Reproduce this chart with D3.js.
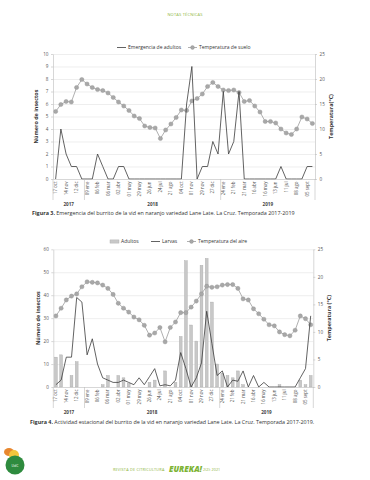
<!DOCTYPE html>
<html>
<head>
<meta charset="utf-8">
<style>
  body { margin: 0; background: #fff; }
  svg text { font-family: "Open Sans", sans-serif; }
</style>
</head>
<body>
<script src="https://cdnjs.cloudflare.com/ajax/libs/d3/7.8.5/d3.min.js"></script>
<script>

/* fechas de muestreo (solo se rotulan las pares) */
var fechas = ["17 oct", "31 oct", "14 nov", "28 nov", "12 dic", "26 dic",
  "09 ene", "23 ene", "06 feb", "20 feb", "06 mar", "20 mar", "02 abr", "17 abr",
  "01 may", "15 may", "29 may", "12 jun", "26 jun", "10 jul", "24 jul", "07 ago",
  "21 ago", "20 sept", "04 oct", "18 oct", "01 nov", "15 nov", "29 nov", "13 dic",
  "27 dic", "31 dic", "24 ene", "07 feb", "21 feb", "07 mar", "21 mar", "02 abr",
  "16 abr", "02 may", "16 may", "30 may", "13 jun", "27 jun", "11 jul", "25 jul",
  "08 ago", "22 ago", "05 sept", "19 sept"];
var anios = ["2017", "2018", "2019"];
var inicioAnio = [0, 6, 32];

/* Figura 3 */
var emergenciaAdultos = [0, 4, 2, 1, 1, 0, 0, 0, 2, 1, 0, 0, 1, 1, 0, 0, 0, 0, 0, 0,
  0, 0, 0, 0, 0, 6, 9, 0, 1, 1, 3, 2, 7, 2, 3, 7, 0, 0, 0, 0,
  0, 0, 0, 1, 0, 0, 0, 0, 1, 1];
var temperaturaSuelo = [13.5, 14.9, 15.5, 15.4, 18.3, 19.9, 19.0, 18.3, 17.9, 17.7,
  17.2, 16.3, 15.4, 14.6, 13.7, 12.6, 12.1, 10.6, 10.3, 10.2,
  8.1, 9.8, 11.0, 12.3, 13.8, 13.7, 15.6, 16.1, 17.0, 18.5,
  19.3, 18.5, 17.8, 17.7, 17.8, 17.3, 15.5, 15.7, 14.6, 13.4,
  11.5, 11.5, 11.2, 10.0, 9.2, 8.9, 10.0, 12.4, 12.0, 11.1];

/* Figura 4 */
var adultos = [13, 14, 0, 5, 11, 0, 0, 0, 0, 1, 5, 0, 5, 4, 1.5, 0, 0, 0, 2, 3,
  0, 7, 0, 2, 22, 55, 27, 20, 53, 56, 37, 10, 6, 5, 4, 7, 1, 0, 0, 0,
  0, 0, 0, 1, 0, 0, 0, 3, 1, 5];
var larvas = [1, 3, 13, 13, 39, 37, 14, 21, 10, 4, 3, 2, 2, 3, 2, 1, 4, 1, 4.5, 8,
  0.5, 1, 0.5, 3, 15, 8, 0, 4, 10.5, 33, 19, 5, 7, 0, 3, 2.5, 7, 0, 5, 0,
  2, 0, 0, 0, 0, 0, 0, 4, 8, 31];
var temperaturaAire = [12.9, 14.3, 15.8, 16.5, 16.9, 18.2, 19.1, 19.0, 18.9, 18.5,
  17.9, 16.8, 15.2, 14.3, 13.6, 12.7, 12.2, 11.2, 9.4, 9.8,
  10.8, 8.2, 10.8, 11.8, 13.5, 13.5, 14.5, 15.6, 16.9, 18.3,
  18.1, 18.2, 18.5, 18.6, 18.6, 17.9, 16.0, 15.8, 14.2, 13.3,
  12.3, 11.3, 11.1, 10.0, 9.5, 9.3, 10.3, 12.9, 12.4, 11.3];

var ticksTemp = [0, 5, 10, 15, 20, 25];

var colorLinea = "#3b3b3b";
var colorTemp = "#9c9c9c";
var colorEje = "#bcbcbc";
var verde = "#8db43a";

var svg = d3.select("body").append("svg")
  .attr("width", 370)
  .attr("height", 480);

function estiloEje(s) {
  s.select(".domain").attr("stroke", colorEje).attr("stroke-width", 0.6);
  s.selectAll(".tick line").attr("stroke", colorEje).attr("stroke-width", 0.6);
  s.selectAll("text").attr("font-size", "4.6px").attr("fill", "#555");
}

function dibujarGrafico(cfg) {
  var n = fechas.length;
  var ancho = cfg.right - cfg.left;
  var x = d3.scaleBand().domain(d3.range(n)).range([cfg.left, cfg.right]);
  var yIzq = d3.scaleLinear().domain([0, cfg.maxIzq]).range([cfg.bottom, cfg.top]);
  var yDer = d3.scaleLinear().domain([0, 25]).range([cfg.bottom, cfg.top]);
  var centro = function(i) { return x(i) + x.bandwidth() / 2; };

  var chart = svg.append("g").attr("class", "chart");

  /* grid */
  chart.append("g")
    .attr("transform", "translate(" + cfg.left + ",0)")
    .call(d3.axisLeft(yIzq).tickValues(cfg.ticksIzq.slice(1)).tickSize(-ancho).tickFormat(""))
    .call(function(s) {
      s.select(".domain").remove();
      s.selectAll("line").attr("stroke", "#e2e2e2").attr("stroke-width", 0.6);
    });

  /* bars */
  if (cfg.barras) {
    chart.append("g").selectAll("rect")
      .data(cfg.barras)
      .enter().append("rect")
      .attr("x", function(d, i) { return centro(i) - 1.4; })
      .attr("width", 2.8)
      .attr("y", function(d) { return yIzq(d); })
      .attr("height", function(d) { return cfg.bottom - yIzq(d); })
      .attr("fill", "#c8c8c8")
      .attr("stroke", "#a8a8a8")
      .attr("stroke-width", 0.4);
  }

  /* temperature */
  var lineaTemp = d3.line()
    .x(function(d, i) { return centro(i); })
    .y(function(d) { return yDer(d); });

  chart.append("path")
    .datum(cfg.temp)
    .attr("d", lineaTemp)
    .attr("fill", "none")
    .attr("stroke", colorTemp)
    .attr("stroke-width", 0.8);

  chart.append("g").selectAll("circle")
    .data(cfg.temp)
    .enter().append("circle")
    .attr("cx", function(d, i) { return centro(i); })
    .attr("cy", function(d) { return yDer(d); })
    .attr("r", 2.1)
    .attr("fill", "#a8a8a8")
    .attr("stroke", "#919191")
    .attr("stroke-width", 0.4);

  /* insects line */
  var lineaIns = d3.line()
    .x(function(d, i) { return centro(i); })
    .y(function(d) { return yIzq(d); });

  chart.append("path")
    .datum(cfg.linea)
    .attr("d", lineaIns)
    .attr("fill", "none")
    .attr("stroke", colorLinea)
    .attr("stroke-width", 0.8)
    .attr("stroke-linejoin", "round");

  /* axes */
  chart.append("g")
    .attr("transform", "translate(" + cfg.left + ",0)")
    .call(d3.axisLeft(yIzq).tickValues(cfg.ticksIzq).tickSize(2).tickSizeOuter(0).tickPadding(2.5))
    .call(estiloEje);

  chart.append("g")
    .attr("transform", "translate(" + cfg.right + ",0)")
    .call(d3.axisRight(yDer).tickValues(ticksTemp).tickSize(2).tickSizeOuter(0).tickPadding(2.5))
    .call(estiloEje);

  chart.append("g")
    .attr("transform", "translate(0," + cfg.bottom + ")")
    .call(d3.axisBottom(x)
      .tickValues(d3.range(0, n, 2))
      .tickFormat(function(i) { return fechas[i]; })
      .tickSize(0).tickSizeOuter(0))
    .call(estiloEje)
    .call(function(s) {
      s.selectAll("text")
        .attr("transform", "rotate(-90)")
        .attr("text-anchor", "end")
        .attr("x", -2.5)
        .attr("y", 0)
        .attr("dy", "0.35em")
        .attr("font-size", "4.4px");
    });

  /* year groups */
  var limites = inicioAnio.map(function(b) { return x(b); }).concat([cfg.right]);

  chart.append("g").selectAll("line")
    .data(limites)
    .enter().append("line")
    .attr("x1", function(d) { return d; })
    .attr("x2", function(d) { return d; })
    .attr("y1", cfg.bottom)
    .attr("y2", cfg.bottom + 21)
    .attr("stroke", colorEje)
    .attr("stroke-width", 0.6);

  chart.append("g").selectAll("text")
    .data(anios)
    .enter().append("text")
    .attr("x", function(d, i) { return (limites[i] + limites[i + 1]) / 2; })
    .attr("y", cfg.bottom + 26.5)
    .attr("text-anchor", "middle")
    .attr("font-size", "4.6px")
    .attr("font-weight", "bold")
    .attr("fill", "#444")
    .text(function(d) { return d; });

  /* axis titles */
  chart.append("text")
    .attr("transform", "translate(" + cfg.tituloIzqX + "," + (cfg.top + cfg.bottom) / 2 + ") rotate(-90)")
    .attr("text-anchor", "middle")
    .attr("font-size", "5.4px")
    .attr("font-weight", "bold")
    .attr("fill", "#333")
    .text("Número de insectos");

  chart.append("text")
    .attr("transform", "translate(" + cfg.tituloDerX + "," + (cfg.top + cfg.bottom) / 2 + ") rotate(-90)")
    .attr("text-anchor", "middle")
    .attr("font-size", "5.4px")
    .attr("font-weight", "bold")
    .attr("fill", "#333")
    .text(cfg.tituloDer);

  /* legend */
  var ley = chart.append("g").selectAll("g")
    .data(cfg.leyenda)
    .enter().append("g")
    .attr("transform", function(d) { return "translate(" + d.x + "," + cfg.leyendaY + ")"; });

  ley.each(function(d) {
    var item = d3.select(this);
    if (d.tipo === "barra") {
      item.append("rect").attr("x", 0).attr("y", -1.6).attr("width", 9).attr("height", 3.2)
        .attr("fill", "#c8c8c8").attr("stroke", "#a8a8a8").attr("stroke-width", 0.4);
    } else if (d.tipo === "linea") {
      item.append("line").attr("x1", 0).attr("x2", 9)
        .attr("stroke", colorLinea).attr("stroke-width", 0.8);
    } else {
      item.append("line").attr("x1", 0).attr("x2", 9)
        .attr("stroke", colorTemp).attr("stroke-width", 0.8);
      item.append("circle").attr("cx", 4.5).attr("r", 1.9)
        .attr("fill", "#a8a8a8").attr("stroke", "#8f8f8f").attr("stroke-width", 0.4);
    }
    item.append("text")
      .attr("x", 11)
      .attr("dy", "0.35em")
      .attr("font-size", "5px")
      .attr("fill", "#333")
      .text(d.texto);
  });

  /* caption */
  var cap = chart.append("text")
    .attr("x", cfg.leyX)
    .attr("y", cfg.leyY)
    .attr("font-size", "5.4px")
    .attr("fill", "#333");
  cap.append("tspan").attr("font-weight", "bold").text(cfg.figura);
  cap.append("tspan").text(" " + cfg.leyTexto);
}

dibujarGrafico({
  left: 53, right: 315, top: 54, bottom: 179,
  maxIzq: 10, ticksIzq: d3.range(0, 11),
  linea: emergenciaAdultos, temp: temperaturaSuelo, barras: null,
  tituloIzqX: 38, tituloDerX: 333, tituloDer: "Temperatura(°C)",
  leyendaY: 47.5,
  leyenda: [
    {tipo: "linea", texto: "Emergencia de adultos", x: 117},
    {tipo: "temp", texto: "Temperatura de suelo", x: 188}
  ],
  leyX: 32, leyY: 215,
  figura: "Figura 3.",
  leyTexto: "Emergencia del burrito de la vid en naranjo variedad Lane Late. La Cruz. Temporada 2017-2019"
});

dibujarGrafico({
  left: 53.3, right: 313.3, top: 249.3, bottom: 387,
  maxIzq: 60, ticksIzq: [0, 10, 20, 30, 40, 50, 60],
  linea: larvas, temp: temperaturaAire, barras: adultos,
  tituloIzqX: 40, tituloDerX: 331, tituloDer: "Temperatura (°C)",
  leyendaY: 241.5,
  leyenda: [
    {tipo: "barra", texto: "Adultos", x: 110},
    {tipo: "linea", texto: "Larvas", x: 151},
    {tipo: "temp", texto: "Temperatura del aire", x: 187}
  ],
  leyX: 30, leyY: 424,
  figura: "Figura 4.",
  leyTexto: "Actividad estacional del burrito de la vid en naranjo variedad Lane Late. La Cruz. Temporada 2017-2019."
});

/* page header and footer */
svg.append("text")
  .attr("x", 185).attr("y", 15.5)
  .attr("text-anchor", "middle")
  .attr("font-size", "4px")
  .attr("letter-spacing", "0.2px")
  .attr("fill", verde)
  .text("NOTAS TÉCNICAS");

svg.append("text")
  .attr("x", 113).attr("y", 471)
  .attr("font-size", "3.8px")
  .attr("letter-spacing", "0.2px")
  .attr("fill", verde)
  .text("REVISTA DE CITRICULTURA");

svg.append("text")
  .attr("x", 169).attr("y", 472)
  .attr("font-size", "8px")
  .attr("font-weight", "900")
  .attr("font-style", "italic")
  .attr("fill", "#7cb334")
  .text("EUREKA!");

svg.append("text")
  .attr("x", 203).attr("y", 471)
  .attr("font-size", "3.8px")
  .attr("fill", verde)
  .text("2(2): 2021");

var logo = svg.append("g");
logo.append("ellipse").attr("cx", 9).attr("cy", 452).attr("rx", 5).attr("ry", 4).attr("fill", "#e8872e");
logo.append("ellipse").attr("cx", 14).attr("cy", 455).attr("rx", 5).attr("ry", 5).attr("fill", "#f2c63c");
logo.append("circle").attr("cx", 15).attr("cy", 465).attr("r", 9.5).attr("fill", "#2e8b3e");
logo.append("text").attr("x", 15).attr("y", 467).attr("text-anchor", "middle")
  .attr("font-size", "3.5px").attr("fill", "#fff").text("UdC");

</script>
</body>
</html>
